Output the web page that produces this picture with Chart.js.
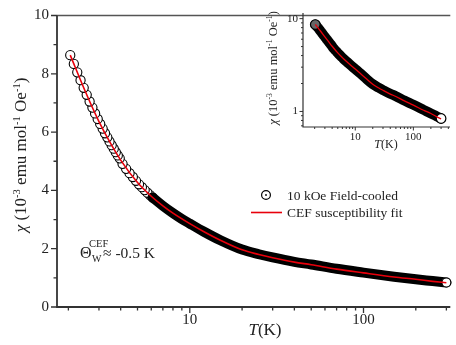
<!DOCTYPE html>
<html><head><meta charset="utf-8">
<script src="https://cdn.jsdelivr.net/npm/chart.js@4.4.1/dist/chart.umd.min.js"></script>
<style>
html,body{margin:0;padding:0;background:#fff;}
#wrap{position:relative;width:456px;height:345px;overflow:hidden;background:#fff;}
#main{position:absolute;left:0;top:0;width:456px;height:345px;}
#inset{position:absolute;left:255px;top:0;width:201px;height:155px;}
</style></head><body>
<div id="wrap"><canvas id="main" width="456" height="345"></canvas><canvas id="inset" width="201" height="155"></canvas></div>
<script>
// ---- data (chi in 1e-3 emu/mol/Oe, T in K) ----
// low-temperature measured points (listed in measurement order, cooling)
const T_DATA_LOW   = [6.1,5.9,5.7,5.5,5.3,5.1,4.9,4.7,4.5,4.3,4.1,3.95,3.85,3.75,3.65,3.55,3.45,3.35,3.25,3.15,3.05,2.95,2.85,2.75,2.65,2.55,2.45,2.35,2.25,2.15,2.05];
const CHI_DATA_LOW = [3.76,3.84,3.92,4.01,4.11,4.21,4.33,4.46,4.59,4.74,4.91,5.10,5.20,5.31,5.43,5.55,5.68,5.82,5.96,6.12,6.28,6.45,6.64,6.84,7.05,7.28,7.52,7.78,8.05,8.34,8.64];
// dense high-temperature part of the same measurement (points overlap into a band)
const T_DATA_HIGH   = [6.1,7,8,9,10,12,15,20,25,30,40,50,70,100,150,200,250,300];
const CHI_DATA_HIGH = [3.76,3.47,3.22,3.02,2.86,2.59,2.29,1.97,1.81,1.70,1.55,1.46,1.31,1.18,1.04,0.95,0.89,0.84];
// CEF susceptibility fit
const T_FIT   = [2.05,2.5,3,3.5,4,5,6,7,8,10,12,15,20,25,30,40,50,70,100,150,200,250,300];
const CHI_FIT = [8.64,7.40,6.36,5.61,5.04,4.27,3.80,3.47,3.22,2.86,2.59,2.29,1.96,1.80,1.69,1.54,1.45,1.30,1.17,1.03,0.95,0.88,0.83];
// ticks
const X_MAJOR = [10,100];
const X_MINOR = [2,3,4,5,6,7,8,9,20,30,40,50,60,70,80,90,200,300];
const Y_MAJOR = [0,2,4,6,8,10];
const Y_MINOR = [1,3,5,7,9];
const IX_MAJOR = [10,100];
const IX_MINOR = [2,3,4,5,6,7,8,9,20,30,40,50,60,70,80,90,200,300,400];
const IY_MAJOR = [1,10];
const IY_MINOR = [0.7,0.8,0.9,2,3,4,5,6,7,8,9];
// labels
const LEGEND_DATA = '10 kOe Field-cooled';
const LEGEND_FIT = 'CEF susceptibility fit';

const SERIF = "'Liberation Serif','Times New Roman','DejaVu Serif',serif";
const TXT = '#222';
const RED = '#e8000b';

function pts(T, C){ return T.map((t,i)=>({x:t, y:C[i]})); }

function drawRich(ctx, parts, x, y, size, align){
  const items = parts.map(p=>{
    const s = (p.sup||p.sub) ? size*0.62 : size;
    const font = (p.it?'italic ':'') + s + 'px ' + SERIF;
    ctx.font = font;
    return {t:p.t, font, w:ctx.measureText(p.t).width, dy: p.sup ? -size*0.38 : (p.sub ? size*0.22 : 0)};
  });
  const total = items.reduce((a,b)=>a+b.w,0);
  let cx = align==='center' ? x-total/2 : x;
  ctx.textAlign='left'; ctx.textBaseline='alphabetic';
  for(const it of items){ ctx.font=it.font; ctx.fillText(it.t, cx, y+it.dy); cx+=it.w; }
}
const Y_TITLE = [{t:'χ',it:true},{t:' (10'},{t:'-3',sup:true},{t:' emu mol'},{t:'-1',sup:true},{t:' Oe'},{t:'-1',sup:true},{t:')'}];
const X_TITLE = [{t:'T',it:true},{t:'(K)'}];

function drawFrame(chart, s){
  const {ctx, chartArea:a, scales:{x,y}} = chart;
  ctx.save();
  ctx.strokeStyle = s.color; ctx.lineWidth = s.axisWidth; ctx.lineCap='butt';
  ctx.beginPath();
  ctx.moveTo(a.left, a.top); ctx.lineTo(a.left, a.bottom); ctx.lineTo(a.right, a.bottom);
  ctx.stroke();
  ctx.lineWidth = s.tickWidth;
  ctx.beginPath();
  const xt = (vals,len)=>vals.forEach(v=>{const p=x.getPixelForValue(v); if(p<a.left-0.5||p>a.right+0.5)return; ctx.moveTo(p,a.bottom); ctx.lineTo(p,a.bottom+len);});
  const yt = (vals,len)=>vals.forEach(v=>{const p=y.getPixelForValue(v); if(p<a.top-0.5||p>a.bottom+0.5)return; ctx.moveTo(a.left,p); ctx.lineTo(a.left-len,p);});
  xt(s.xMajor,s.major); xt(s.xMinor,s.minor); yt(s.yMajor,s.major); yt(s.yMinor,s.minor);
  ctx.stroke();
  ctx.restore();
}

const mainDeco = {
  id:'mainDeco',
  beforeDatasetsDraw(chart){
    const {ctx, chartArea:a} = chart;
    ctx.save(); ctx.strokeStyle='#555'; ctx.lineWidth=1.3;
    ctx.beginPath(); ctx.moveTo(a.left,a.top); ctx.lineTo(a.right,a.top); ctx.stroke(); ctx.restore();
    drawFrame(chart,{color:'#333',axisWidth:1.8,tickWidth:1.3,major:6,minor:3.5,xMajor:X_MAJOR,xMinor:X_MINOR,yMajor:Y_MAJOR,yMinor:Y_MINOR});
  },
  afterDraw(chart){
    const ctx = chart.ctx;
    ctx.save(); ctx.fillStyle=TXT;
    ctx.save(); ctx.translate(26,155); ctx.rotate(-Math.PI/2);
    drawRich(ctx, Y_TITLE, 0, 0, 17, 'center'); ctx.restore();
    drawRich(ctx, X_TITLE, 265, 335, 17, 'center');
    ctx.textAlign='left'; ctx.textBaseline='alphabetic';
    ctx.font='16px '+SERIF; ctx.fillText('Θ',80,258);
    ctx.font='10px '+SERIF; ctx.fillText('W',92,262);
    ctx.font='10.5px '+SERIF; ctx.fillText('CEF',89,247);
    ctx.font='15.5px '+SERIF; ctx.fillText('≈ -0.5 K',103,258);
    ctx.beginPath(); ctx.arc(266,195,4.4,0,Math.PI*2); ctx.fillStyle='#fff'; ctx.fill();
    ctx.lineWidth=1.2; ctx.strokeStyle='#000'; ctx.stroke();
    ctx.beginPath(); ctx.arc(266,195,0.9,0,Math.PI*2); ctx.fillStyle='#000'; ctx.fill();
    ctx.strokeStyle=RED; ctx.lineWidth=1.6; ctx.beginPath(); ctx.moveTo(251,212.5); ctx.lineTo(282,212.5); ctx.stroke();
    ctx.fillStyle=TXT; ctx.font='13.5px '+SERIF;
    ctx.fillText(LEGEND_DATA,287,199.5);
    ctx.fillText(LEGEND_FIT,287,217);
    ctx.restore();
  }
};

const insetDeco = {
  id:'insetDeco',
  beforeDatasetsDraw(chart){
    drawFrame(chart,{color:'#333',axisWidth:1.2,tickWidth:1,major:3.5,minor:2,xMajor:IX_MAJOR,xMinor:IX_MINOR,yMajor:IY_MAJOR,yMinor:IY_MINOR});
  },
  afterDraw(chart){
    const ctx = chart.ctx;
    ctx.save(); ctx.fillStyle=TXT;
    ctx.save(); ctx.translate(276.5-255,68); ctx.rotate(-Math.PI/2);
    drawRich(ctx, Y_TITLE, 0, 0, 12.5, 'center'); ctx.restore();
    drawRich(ctx, X_TITLE, 386-255, 148, 12, 'center');
    ctx.restore();
  }
};

const tickFont = (size)=>({family:SERIF,size:size,lineHeight:1});

new Chart(document.getElementById('main'),{
  type:'scatter',
  data:{datasets:[
    {label:LEGEND_FIT, data:pts(T_FIT,CHI_FIT), showLine:true, borderColor:RED, borderWidth:1.6, pointRadius:0, cubicInterpolationMode:'monotone', order:0, clip:false},
    {label:'end', data:[{x:T_DATA_HIGH[T_DATA_HIGH.length-1], y:CHI_DATA_HIGH[CHI_DATA_HIGH.length-1]}], pointRadius:4.5, pointBackgroundColor:'#fff', pointBorderColor:'#000', pointBorderWidth:1.2, order:1, clip:false},
    {label:'band', data:pts(T_DATA_HIGH,CHI_DATA_HIGH), showLine:true, borderColor:'#000', borderWidth:10, borderCapStyle:'round', borderJoinStyle:'round', pointRadius:0, cubicInterpolationMode:'monotone', order:2, clip:false},
    {label:LEGEND_DATA, data:pts(T_DATA_LOW,CHI_DATA_LOW), pointRadius:4.6, pointBackgroundColor:'#fff', pointBorderColor:'#000', pointBorderWidth:1.1, order:3, clip:false}
  ]},
  options:{
    responsive:false, animation:false, events:[],
    layout:{padding:{top:8,right:0,left:0,bottom:0}},
    plugins:{legend:{display:false}, tooltip:{enabled:false}},
    scales:{
      x:{type:'logarithmic', min:1.72, max:316, grid:{display:false,drawTicks:false}, border:{display:false},
         afterBuildTicks:s=>{s.ticks=X_MAJOR.map(v=>({value:v}));},
         ticks:{font:tickFont(15), color:TXT, padding:6, maxRotation:0, autoSkip:false, callback:v=>String(v)},
         afterFit:s=>{s.height=38;}},
      y:{type:'linear', min:0, max:10, grid:{display:false,drawTicks:false}, border:{display:false},
         afterBuildTicks:s=>{s.ticks=Y_MAJOR.map(v=>({value:v}));},
         ticks:{font:tickFont(15), color:TXT, padding:8, autoSkip:false, callback:v=>String(v)},
         afterFit:s=>{s.width=57;}}
    }
  },
  plugins:[mainDeco]
});

const insetBandT = T_DATA_LOW.slice().reverse().concat(T_DATA_HIGH.slice(1));
const insetBandC = CHI_DATA_LOW.slice().reverse().concat(CHI_DATA_HIGH.slice(1));

new Chart(document.getElementById('inset'),{
  type:'scatter',
  data:{datasets:[
    {label:LEGEND_FIT, data:pts(T_FIT,CHI_FIT), showLine:true, borderColor:RED, borderWidth:1.3, pointRadius:0, cubicInterpolationMode:'monotone', order:0, clip:false},
    {label:'ends', data:[{x:insetBandT[0],y:insetBandC[0]},{x:insetBandT[insetBandT.length-1],y:insetBandC[insetBandC.length-1]}],
      pointRadius:4.8, pointBackgroundColor:['#666','#fff'], pointBorderColor:'#000', pointBorderWidth:1.2, order:1, clip:false},
    {label:'band', data:pts(insetBandT,insetBandC), showLine:true, borderColor:'#000', borderWidth:10, borderCapStyle:'round', borderJoinStyle:'round', pointRadius:0, cubicInterpolationMode:'monotone', order:2, clip:false}
  ]},
  options:{
    responsive:false, animation:false, events:[],
    layout:{padding:{top:13,right:1,left:0,bottom:0}},
    plugins:{legend:{display:false}, tooltip:{enabled:false}},
    scales:{
      x:{type:'logarithmic', min:1.26, max:427, grid:{display:false,drawTicks:false}, border:{display:false},
         afterBuildTicks:s=>{s.ticks=IX_MAJOR.map(v=>({value:v}));},
         ticks:{font:tickFont(11), color:TXT, padding:5, maxRotation:0, autoSkip:false, callback:v=>String(v)},
         afterFit:s=>{s.height=28;}},
      y:{type:'logarithmic', min:0.68, max:11.5, grid:{display:false,drawTicks:false}, border:{display:false},
         afterBuildTicks:s=>{s.ticks=IY_MAJOR.map(v=>({value:v}));},
         ticks:{font:tickFont(11), color:TXT, padding:5, autoSkip:false, callback:v=>String(v)},
         afterFit:s=>{s.width=48;}}
    }
  },
  plugins:[insetDeco]
});
</script></body></html>
